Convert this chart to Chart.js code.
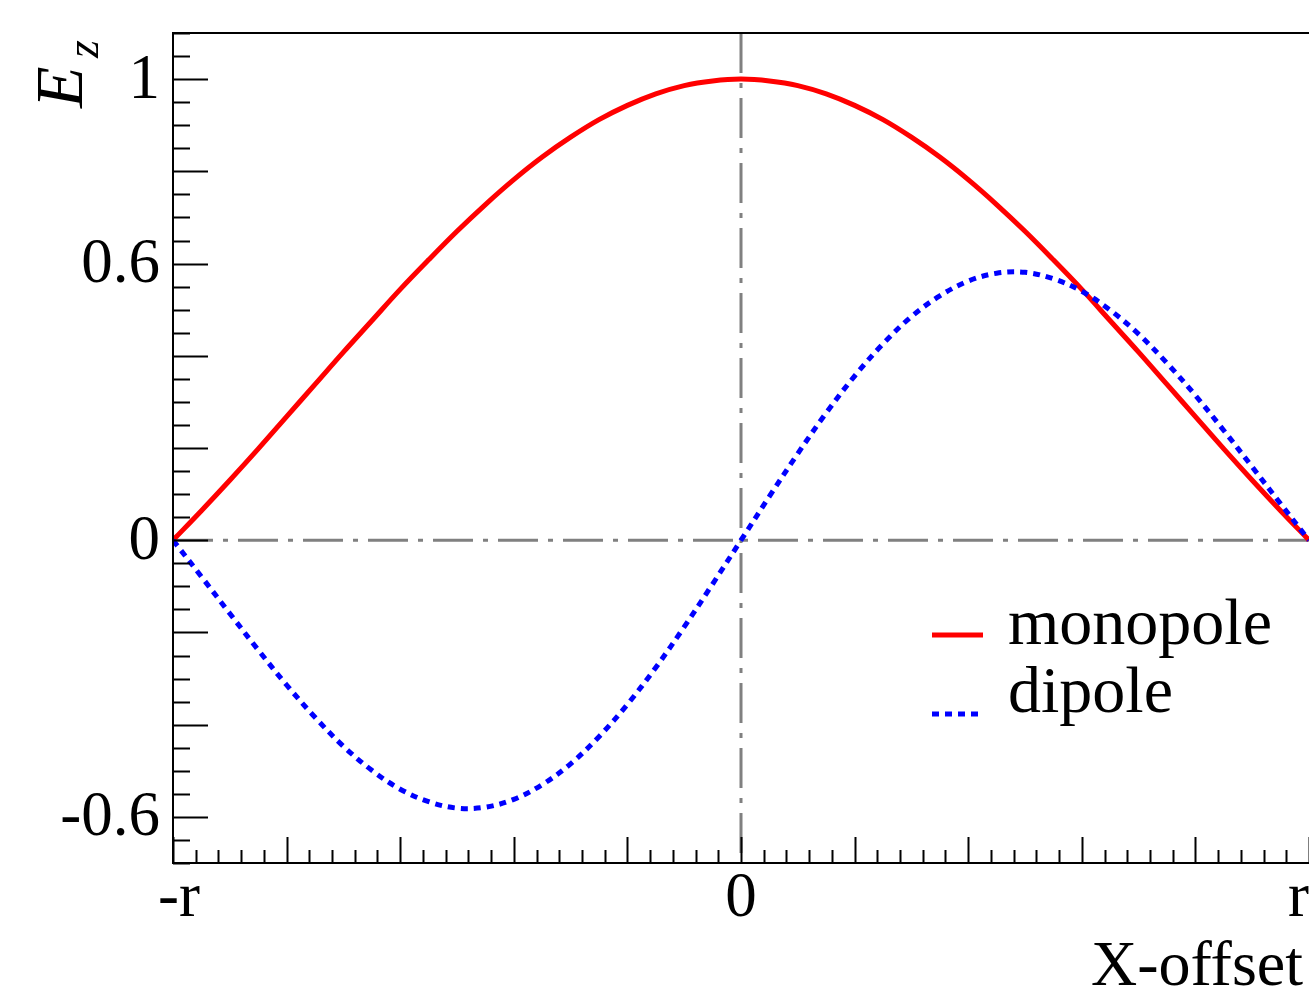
<!DOCTYPE html>
<html>
<head>
<meta charset="utf-8">
<script src="https://cdn.jsdelivr.net/npm/chart.js@4/dist/chart.umd.min.js"></script>
<style>
  html, body { margin: 0; padding: 0; background: #fff; }
  canvas { display: block; }
</style>
</head>
<body>
<canvas id="chart" width="1309" height="989"></canvas>
<script>
// values, x in units of r
var xOffset = [-1, -0.95, -0.9, -0.85, -0.8, -0.75, -0.7, -0.65, -0.6, -0.55, -0.5,
    -0.45, -0.4, -0.35, -0.3, -0.25, -0.2, -0.15, -0.1, -0.05, 0,
    0.05, 0.1, 0.15, 0.2, 0.25, 0.3, 0.35, 0.4, 0.45, 0.5,
    0.55, 0.6, 0.65, 0.7, 0.75, 0.8, 0.85, 0.9, 0.95, 1];
var monopole = [0, 0.064, 0.130, 0.198, 0.268, 0.338, 0.408, 0.476, 0.544, 0.608, 0.670,
    0.728, 0.782, 0.831, 0.874, 0.912, 0.943, 0.968, 0.986, 0.996, 1,
    0.996, 0.986, 0.968, 0.943, 0.912, 0.874, 0.831, 0.782, 0.728, 0.670,
    0.608, 0.544, 0.476, 0.408, 0.338, 0.268, 0.198, 0.130, 0.064, 0];
var dipole = [0, -0.079, -0.159, -0.238, -0.314, -0.384, -0.447, -0.499, -0.540, -0.567, -0.581,
    -0.579, -0.562, -0.530, -0.485, -0.426, -0.356, -0.276, -0.188, -0.095, 0,
    0.095, 0.188, 0.276, 0.356, 0.426, 0.485, 0.530, 0.562, 0.579, 0.581,
    0.567, 0.540, 0.499, 0.447, 0.384, 0.314, 0.238, 0.159, 0.079, 0];

var xTickValues = [-1, 0, 1];
var xTickLabels = ['-r', '0', 'r'];
var yTickValues = [1, 0.6, 0, -0.6];
var yTickLabels = ['1', '0.6', '0', '-0.6'];
var seriesNames = ['monopole', 'dipole'];

var FONT = '"Liberation Serif", "DejaVu Serif", serif';

function points(ys) {
    return xOffset.map(function (x, i) { return { x: x, y: ys[i] }; });
}

// ROOT-like frame, inner ticks, reference lines, legend and titles
var rootFrame = {
    id: 'rootFrame',
    beforeDatasetsDraw: function (chart) {
        var ctx = chart.ctx, a = chart.chartArea;
        var xs = chart.scales.x, ys = chart.scales.y;
        var x0 = xs.getPixelForValue(0), y0 = ys.getPixelForValue(0);
        ctx.save();
        ctx.strokeStyle = '#808080';
        ctx.lineWidth = 3;
        ctx.setLineDash([40, 10, 5, 10]);
        ctx.beginPath();
        ctx.moveTo(a.left, y0); ctx.lineTo(a.right, y0);
        ctx.stroke();
        ctx.beginPath();
        ctx.moveTo(x0, a.top); ctx.lineTo(x0, a.bottom);
        ctx.stroke();
        ctx.restore();
    },
    afterDatasetsDraw: function (chart) {
        var ctx = chart.ctx, a = chart.chartArea;
        var xs = chart.scales.x, ys = chart.scales.y;
        var k, p;
        ctx.save();
        ctx.strokeStyle = '#000';
        ctx.lineWidth = 2;
        ctx.setLineDash([]);
        ctx.beginPath();
        ctx.moveTo(a.right, a.top); ctx.lineTo(a.left, a.top);
        ctx.lineTo(a.left, a.bottom); ctx.lineTo(a.right, a.bottom);
        ctx.stroke();

        // y ticks every 0.05, long ones every 0.2
        ctx.beginPath();
        for (k = -14; k <= 22; k++) {
            p = Math.round(ys.getPixelForValue(k * 0.05)) + 0.5;
            ctx.moveTo(a.left, p);
            ctx.lineTo(a.left + (k % 4 === 0 ? 35 : 17), p);
        }
        // x ticks every 0.04, long ones every 0.2
        for (k = -25; k <= 25; k++) {
            p = Math.round(xs.getPixelForValue(k * 0.04)) + 0.5;
            ctx.moveTo(p, a.bottom);
            ctx.lineTo(p, a.bottom - (k % 5 === 0 ? 26 : 13));
        }
        ctx.stroke();

        ctx.fillStyle = '#000';
        ctx.font = '63px ' + FONT;
        ctx.textAlign = 'right';
        ctx.textBaseline = 'middle';
        yTickValues.forEach(function (v, i) {
            ctx.fillText(yTickLabels[i], a.left - 13, ys.getPixelForValue(v) + 2);
        });
        ctx.textBaseline = 'alphabetic';
        xTickValues.forEach(function (v, i) {
            var px = xs.getPixelForValue(v);
            ctx.textAlign = 'center';
            if (px >= chart.width - 2) { ctx.textAlign = 'right'; px = chart.width; }
            ctx.fillText(xTickLabels[i], px + (v < 0 ? 6 : 0), a.bottom + 53);
        });

        // x title
        ctx.font = '64px ' + FONT;
        ctx.textAlign = 'right';
        ctx.fillText('X-offset', 1303, 985);

        // y title: E_z rotated
        ctx.save();
        ctx.translate(82, 108);
        ctx.rotate(-Math.PI / 2);
        ctx.textAlign = 'left';
        ctx.font = 'italic 68px ' + FONT;
        ctx.fillText('E', 0, 0);
        ctx.font = 'italic 46px ' + FONT;
        ctx.fillText('z', 50, 16);
        ctx.restore();

        // legend
        var ds = chart.data.datasets;
        var rows = [{ y: 635, ty: 644 }, { y: 714, ty: 712 }];
        ctx.font = '66px ' + FONT;
        ctx.textAlign = 'left';
        seriesNames.forEach(function (name, i) {
            var d = ds[i];
            ctx.save();
            ctx.strokeStyle = d.borderColor;
            ctx.lineWidth = 5;
            ctx.setLineDash(d.borderDash || []);
            ctx.beginPath();
            ctx.moveTo(932, rows[i].y);
            ctx.lineTo(983, rows[i].y);
            ctx.stroke();
            ctx.restore();
            ctx.fillText(name, 1008, rows[i].ty);
        });
        ctx.restore();
    }
};

new Chart(document.getElementById('chart'), {
    type: 'line',
    data: {
        datasets: [{
            label: seriesNames[0],
            data: points(monopole),
            borderColor: '#ff0000',
            borderWidth: 5,
            pointRadius: 0,
            tension: 0.35,
            order: 2
        }, {
            label: seriesNames[1],
            data: points(dipole),
            borderColor: '#0000ff',
            borderWidth: 5,
            borderDash: [7, 6],
            pointRadius: 0,
            tension: 0.35,
            order: 1
        }]
    },
    options: {
        responsive: false,
        animation: false,
        devicePixelRatio: 1,
        layout: { padding: { left: 173, top: 33, right: 0, bottom: 126 } },
        scales: {
            x: { type: 'linear', min: -1, max: 1, display: false },
            y: { type: 'linear', min: -0.7, max: 1.1, display: false }
        },
        plugins: {
            legend: { display: false },
            tooltip: { enabled: false }
        }
    },
    plugins: [rootFrame]
});
</script>
</body>
</html>
